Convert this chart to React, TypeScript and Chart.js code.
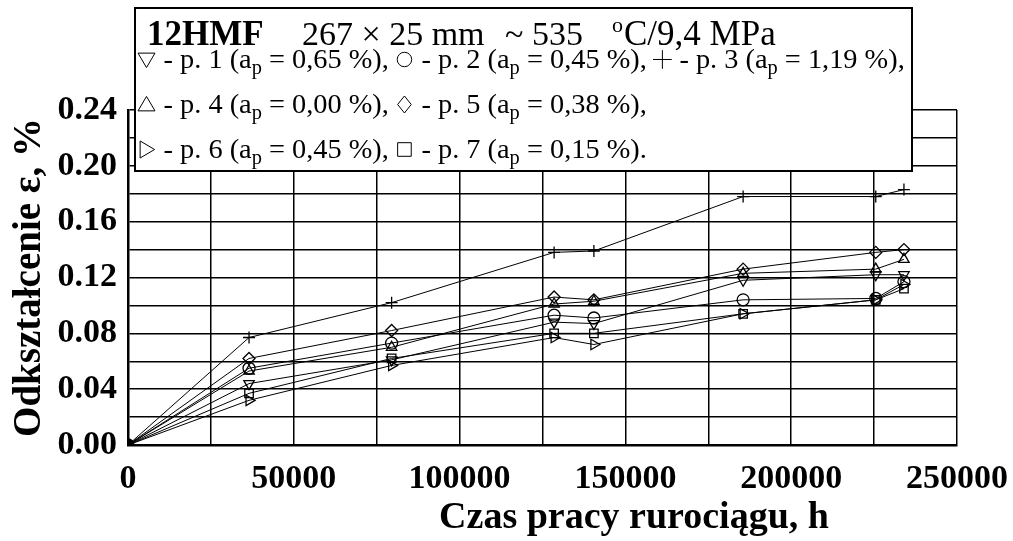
import React, { useEffect, useRef } from 'react';
import { Chart, registerables } from 'chart.js';

Chart.register(...registerables);

const FONT = '"Liberation Serif", "Times New Roman", Times, serif';

// ---- data ----
const hours = [0, 36500, 79500, 128500, 140500, 185500, 225500, 234000];
const seriesP1 = [0, 0.044, 0.061, 0.088, 0.087, 0.118, 0.122, 0.122]; // ▽
const seriesP2 = [0, 0.055, 0.073, 0.093, 0.091, 0.104, 0.105, 0.117]; // ○
const seriesP3 = [0, 0.077, 0.102, 0.138, 0.139, 0.178, 0.178, 0.183]; // +
const seriesP4 = [0, 0.053, 0.07, 0.101, 0.103, 0.123, 0.126, 0.133]; // △
const seriesP5 = [0, 0.062, 0.082, 0.106, 0.104, 0.126, 0.138, 0.14]; // ◇
const seriesP6 = [0, 0.032, 0.057, 0.077, 0.072, 0.094, 0.104, 0.115]; // ▷
const seriesP7 = [0, 0.037, 0.062, 0.08, 0.08, 0.094, 0.104, 0.112]; // □

const pointNames = ['p. 1', 'p. 2', 'p. 3', 'p. 4', 'p. 5', 'p. 6', 'p. 7'];
const apValues = ['0,65', '0,45', '1,19', '0,00', '0,38', '0,45', '0,15'];
const symbolKinds = ['triDown', 'circle', 'cross', 'triUp', 'diamond', 'triRight', 'square'];
const legendRows = [[0, 1, 2], [3, 4], [5, 6]];

const xTickValues = [0, 50000, 100000, 150000, 200000, 250000];
const xTickLabels = ['0', '50000', '100000', '150000', '200000', '250000'];
const yTickValues = [0, 0.04, 0.08, 0.12, 0.16, 0.2, 0.24];
const yTickLabels = ['0.00', '0.04', '0.08', '0.12', '0.16', '0.20', '0.24'];

const xTitle = 'Czas pracy rurociągu, h';
const yTitle = 'Odkształcenie ε, %';
const headBold = '12HMF';
const headSize = '267 × 25 mm';
const headTemp = '~ 535';
const headDeg = 'o';
const headRest = 'C/9,4 MPa';

const allSeries = [seriesP1, seriesP2, seriesP3, seriesP4, seriesP5, seriesP6, seriesP7];

const pointStyleOf = (kind: string) => {
  switch (kind) {
    case 'triDown': return { pointStyle: 'triangle', rotation: 180 };
    case 'triUp': return { pointStyle: 'triangle', rotation: 0 };
    case 'triRight': return { pointStyle: 'triangle', rotation: 90 };
    case 'circle': return { pointStyle: 'circle', rotation: 0 };
    case 'cross': return { pointStyle: 'cross', rotation: 0 };
    case 'diamond': return { pointStyle: 'rectRot', rotation: 0 };
    default: return { pointStyle: 'rect', rotation: 0 };
  }
};

function drawSymbol(ctx: CanvasRenderingContext2D, kind: string, cx: number, cy: number, r: number) {
  ctx.beginPath();
  switch (kind) {
    case 'triDown':
      ctx.moveTo(cx - r, cy - r * 0.75); ctx.lineTo(cx + r, cy - r * 0.75); ctx.lineTo(cx, cy + r * 0.95); ctx.closePath(); break;
    case 'triUp':
      ctx.moveTo(cx - r, cy + r * 0.75); ctx.lineTo(cx + r, cy + r * 0.75); ctx.lineTo(cx, cy - r * 0.95); ctx.closePath(); break;
    case 'triRight':
      ctx.moveTo(cx - r * 0.75, cy - r); ctx.lineTo(cx - r * 0.75, cy + r); ctx.lineTo(cx + r * 0.95, cy); ctx.closePath(); break;
    case 'circle':
      ctx.arc(cx, cy, r * 0.85, 0, Math.PI * 2); break;
    case 'cross':
      ctx.moveTo(cx - r * 1.1, cy); ctx.lineTo(cx + r * 1.1, cy); ctx.moveTo(cx, cy - r * 1.1); ctx.lineTo(cx, cy + r * 1.1); break;
    case 'diamond':
      ctx.moveTo(cx, cy - r); ctx.lineTo(cx + r * 0.8, cy); ctx.lineTo(cx, cy + r); ctx.lineTo(cx - r * 0.8, cy); ctx.closePath(); break;
    default:
      ctx.rect(cx - r * 0.8, cy - r * 0.8, r * 1.6, r * 1.6);
  }
  ctx.stroke();
}

function drawRow(ctx: CanvasRenderingContext2D, idxs: number[], x: number, y: number, fs: number, last: boolean, dry: boolean) {
  let cx = x;
  idxs.forEach((k, j) => {
    const r = fs * 0.3;
    if (!dry) drawSymbol(ctx, symbolKinds[k], cx + r, y - fs * 0.3, r);
    cx += 2 * r + fs * 0.3;
    ctx.font = `${fs}px ${FONT}`;
    const t1 = `- ${pointNames[k]} (a`;
    if (!dry) ctx.fillText(t1, cx, y);
    cx += ctx.measureText(t1).width;
    ctx.font = `${fs * 0.72}px ${FONT}`;
    if (!dry) ctx.fillText('p', cx, y + fs * 0.22);
    cx += ctx.measureText('p').width;
    ctx.font = `${fs}px ${FONT}`;
    const t2 = ` = ${apValues[k]} %)` + (j < idxs.length - 1 ? ', ' : (last ? '.' : ','));
    if (!dry) ctx.fillText(t2, cx, y);
    cx += ctx.measureText(t2).width;
  });
  return cx - x;
}

const overlayPlugin = {
  id: 'overlayPlugin',
  afterDraw(chart: any) {
    const ctx: CanvasRenderingContext2D = chart.ctx;
    const area = chart.chartArea;
    ctx.save();
    ctx.fillStyle = '#000';
    ctx.strokeStyle = '#000';
    ctx.textAlign = 'left';
    ctx.textBaseline = 'alphabetic';

    // axis titles
    ctx.font = `bold 38px ${FONT}`;
    ctx.textAlign = 'center';
    ctx.fillText(xTitle, 634, 528);
    ctx.save();
    ctx.translate(40, (area.top + area.bottom) / 2);
    ctx.rotate(-Math.PI / 2);
    ctx.font = `bold 39px ${FONT}`;
    ctx.fillText(yTitle, 0, 0);
    ctx.restore();
    ctx.textAlign = 'left';

    // annotation box
    const bx = 135, by = 8, bw = 777, bh = 163;
    ctx.fillStyle = '#fff';
    ctx.fillRect(bx, by, bw, bh);
    ctx.lineWidth = 2;
    ctx.strokeRect(bx, by, bw, bh);
    ctx.fillStyle = '#000';

    ctx.font = `bold 35px ${FONT}`;
    ctx.fillText(headBold, 147, 45);
    ctx.font = `34px ${FONT}`;
    ctx.fillText(headSize, 302, 45);
    ctx.fillText(headTemp, 505, 45);
    ctx.font = `22px ${FONT}`;
    ctx.fillText(headDeg, 612, 32);
    const dw = ctx.measureText(headDeg).width;
    ctx.font = `35px ${FONT}`;
    ctx.fillText(headRest, 612 + dw + 1, 45);

    // rows
    const targetW = 905 - 138;
    const w0 = drawRow(ctx, legendRows[0], 138, 0, 26, false, true);
    const fs = 26 * targetW / w0;
    ctx.lineWidth = 1;
    const baselines = [68, 113, 158];
    legendRows.forEach((row, i) => {
      drawRow(ctx, row, 138, baselines[i], fs, i === legendRows.length - 1, false);
    });
    ctx.restore();
  },
};

export default function App() {
  const ref = useRef<HTMLCanvasElement | null>(null);
  useEffect(() => {
    document.body.style.margin = '0';
    const canvas = ref.current;
    if (!canvas) return;
    const datasets = allSeries.map((s, i) => {
      const ps = pointStyleOf(symbolKinds[i]);
      return {
        label: pointNames[i],
        data: hours.map((h, j) => ({ x: h, y: s[j] })),
        borderColor: '#000',
        borderWidth: 1,
        pointStyle: ps.pointStyle,
        rotation: ps.rotation,
        pointRadius: 6,
        pointBorderColor: '#000',
        pointBorderWidth: 1.3,
        pointBackgroundColor: 'rgba(0,0,0,0)',
        fill: false,
        tension: 0,
      };
    });
    const chart = new Chart(canvas, {
      type: 'line',
      data: { datasets },
      options: {
        animation: false,
        responsive: false,
        devicePixelRatio: 1,
        layout: { padding: { top: 110, right: 56, left: 0, bottom: 0 } },
        plugins: { legend: { display: false }, tooltip: { enabled: false } },
        scales: {
          x: {
            type: 'linear',
            min: 0,
            max: 250000,
            afterFit: (s: any) => { s.height = 96; s.paddingLeft = 0; s.paddingRight = 0; },
            grid: { color: '#000', lineWidth: 1.5, drawTicks: false },
            border: { display: true, color: '#000', width: 2.5 },
            ticks: {
              stepSize: 25000,
              autoSkip: false,
              maxRotation: 0,
              padding: 14,
              color: '#000',
              font: { family: FONT, size: 34, weight: 'bold' },
              callback: (v: any) => {
                const i = xTickValues.findIndex((t) => Math.abs(t - v) < 1e-6);
                return i >= 0 ? xTickLabels[i] : '';
              },
            },
          },
          y: {
            type: 'linear',
            min: 0,
            max: 0.24,
            afterFit: (s: any) => { s.width = 128; s.paddingTop = 0; s.paddingBottom = 0; },
            grid: { color: '#000', lineWidth: 1.5, drawTicks: false },
            border: { display: true, color: '#000', width: 2.5 },
            ticks: {
              stepSize: 0.02,
              autoSkip: false,
              padding: 11,
              color: '#000',
              font: { family: FONT, size: 34, weight: 'bold' },
              callback: (v: any) => {
                const i = yTickValues.findIndex((t) => Math.abs(t - v) < 1e-9);
                return i >= 0 ? yTickLabels[i] : '';
              },
            },
          },
        },
      },
      plugins: [overlayPlugin],
    } as any);
    return () => chart.destroy();
  }, []);
  return (
    <div style={{ width: 1013, height: 541, position: 'relative' }}>
      <canvas ref={ref} width={1013} height={541} style={{ display: 'block' }} />
    </div>
  );
}
